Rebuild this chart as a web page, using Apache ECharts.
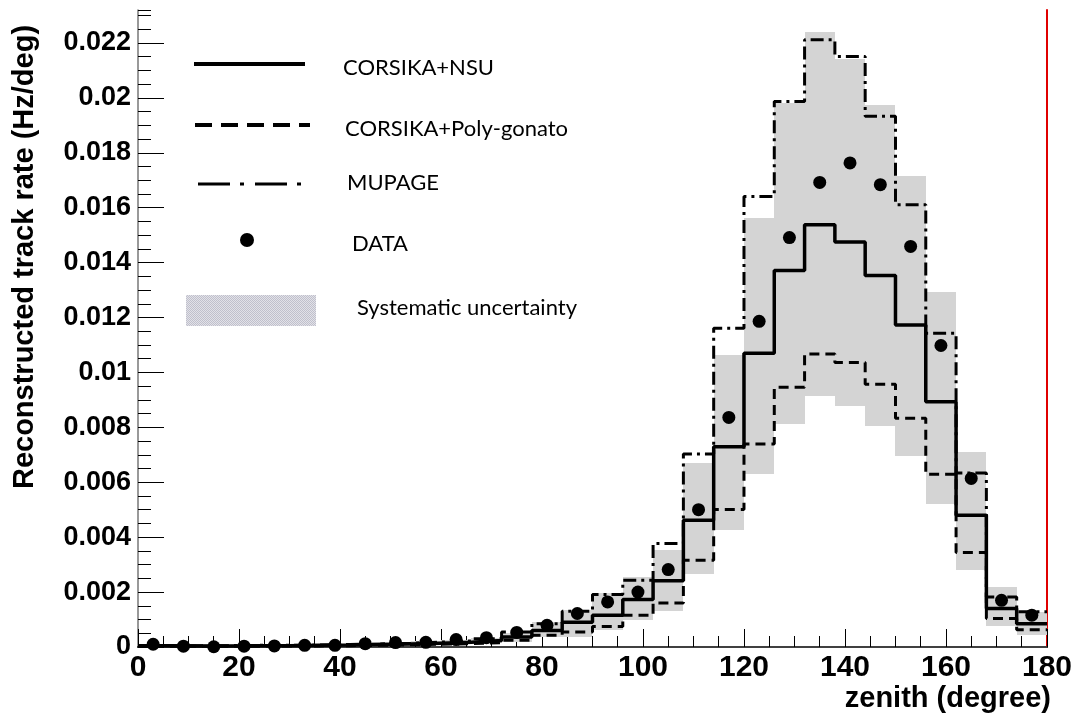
<!DOCTYPE html>
<html>
<head>
<meta charset="utf-8">
<script src="https://cdn.jsdelivr.net/npm/echarts@6/dist/echarts.min.js"></script>
<style>
  html, body { margin: 0; padding: 0; background: #fff; }
  #chart { width: 1075px; height: 716px; }
</style>
</head>
<body>
<div id="chart"></div>
<script>
// Zenith-angle histogram: 30 bins of 6 degrees (lower edges)
const binEdges = [0, 6, 12, 18, 24, 30, 36, 42, 48, 54, 60, 66, 72, 78, 84,
                  90, 96, 102, 108, 114, 120, 126, 132, 138, 144, 150, 156, 162, 168, 174];
const binWidth = 6;

// Reconstructed track rate per bin (Hz/deg)
const corsikaNSU = [0.00005, 0.00004, 0.00004, 0.00005, 0.00005, 0.00006, 0.00007, 0.00009, 0.00011, 0.00014,
                    0.00017, 0.00024, 0.00036, 0.0006, 0.0009, 0.00116, 0.00173, 0.00241, 0.00462, 0.00729,
                    0.0107, 0.01371, 0.01538, 0.01475, 0.01353, 0.01173, 0.00893, 0.0048, 0.0014, 0.00085];
const corsikaPolyGonato = [0.00003, 0.00003, 0.00003, 0.00003, 0.00004, 0.00004, 0.00005, 0.00006, 0.00008, 0.0001,
                           0.00012, 0.00016, 0.00025, 0.00043, 0.00055, 0.00075, 0.00116, 0.0016, 0.00316, 0.00501,
                           0.00739, 0.00946, 0.01067, 0.01036, 0.00957, 0.00833, 0.00629, 0.00344, 0.00104, 0.00063];
const mupage = [0.00005, 0.00005, 0.00005, 0.00006, 0.00006, 0.00007, 0.00009, 0.00011, 0.00014, 0.00018,
                0.00022, 0.0003, 0.00055, 0.00085, 0.0013, 0.00191, 0.00243, 0.00377, 0.00703, 0.01161,
                0.01641, 0.01987, 0.02212, 0.02151, 0.01933, 0.01611, 0.01143, 0.00634, 0.00182, 0.00128];
const dataRate = [0.0001, 0.00003, 0.00001, 0.00003, 0.00004, 0.00006, 0.00006, 0.00012, 0.00016, 0.00017,
                  0.00027, 0.00034, 0.00053, 0.00079, 0.00122, 0.00164, 0.002, 0.00282, 0.005, 0.00836,
                  0.01186, 0.01491, 0.01692, 0.01763, 0.01684, 0.01459, 0.01098, 0.00614, 0.0017, 0.00116];
// Systematic uncertainty band (lower / upper edge per bin)
const sysLow = [0.00002, 0.00002, 0.00002, 0.00002, 0.00003, 0.00003, 0.00004, 0.00005, 0.00006, 0.00007,
                0.0001, 0.00014, 0.0002, 0.00035, 0.00036, 0.00061, 0.00097, 0.0013, 0.00265, 0.00426,
                0.0063, 0.00812, 0.00915, 0.00878, 0.00805, 0.00696, 0.00521, 0.00282, 0.00075, 0.00043];
const sysHigh = [0.00007, 0.00006, 0.00006, 0.00007, 0.00008, 0.00009, 0.00011, 0.00013, 0.00017, 0.00021,
                 0.00026, 0.00034, 0.0005, 0.0009, 0.00134, 0.00195, 0.00255, 0.00353, 0.00671, 0.01064,
                 0.01562, 0.0198, 0.0224, 0.0214, 0.01975, 0.01714, 0.01292, 0.00709, 0.00217, 0.00128];

// Axis tick labels
const xTickLabels = ['0', '20', '40', '60', '80', '100', '120', '140', '160', '180'];
const yTickLabels = ['0', '0.002', '0.004', '0.006', '0.008', '0.01', '0.012', '0.014', '0.016', '0.018', '0.02', '0.022'];
const xStep = 20, yStep = 0.002;
const xMax = 180, yMax = 0.0232;

// Histogram outline: one point per lower edge plus the closing upper edge
function stepData(values) {
  const pts = binEdges.map((e, i) => [e, values[i]]);
  const last = binEdges.length - 1;
  pts.push([binEdges[last] + binWidth, values[last]]);
  return pts;
}

function labelFor(list, step) {
  return function (v) {
    const k = Math.round(v / step);
    return Math.abs(v - k * step) < step * 1e-6 && k < list.length ? list[k] : '';
  };
}

// Fine stipple used for the legend swatch of the uncertainty band
function stipple() {
  const c = document.createElement('canvas');
  c.width = 2; c.height = 2;
  const g = c.getContext('2d');
  g.fillStyle = '#e2e2e8'; g.fillRect(0, 0, 2, 2);
  g.fillStyle = '#c0c0cc'; g.fillRect(0, 0, 1, 1); g.fillRect(1, 1, 1, 1);
  return { image: c, repeat: 'repeat' };
}

const boldFont = 'Liberation Sans, Arial, sans-serif';
const legendFont = 'Lato, sans-serif';

const chart = echarts.init(document.getElementById('chart'), null, { renderer: 'canvas' });

chart.setOption({
  backgroundColor: '#fff',
  animation: false,
  grid: { left: 138, right: 27, top: 10, bottom: 69, containLabel: false },
  xAxis: [
    {
      type: 'value', min: 0, max: xMax, interval: xStep, position: 'bottom',
      axisLine: { show: true, lineStyle: { color: '#000', width: 2 } },
      axisTick: { show: true, inside: true, length: 18, lineStyle: { color: '#000', width: 1 } },
      minorTick: { show: true, splitNumber: 4, length: 11, lineStyle: { color: '#000', width: 1 } },
      axisLabel: { formatter: labelFor(xTickLabels, xStep), fontSize: 30, fontWeight: 'bold',
                   fontFamily: boldFont, color: '#000', margin: 6 },
      splitLine: { show: false }
    },
    {
      type: 'value', min: 0, max: xMax, position: 'top',
      axisLine: { show: true, lineStyle: { color: '#555', width: 1.5 } },
      axisTick: { show: false }, axisLabel: { show: false }, splitLine: { show: false }
    }
  ],
  yAxis: [
    {
      type: 'value', min: 0, max: yMax, interval: 0.0005, position: 'left',
      axisLine: { show: true, lineStyle: { color: '#777', width: 1.5 } },
      axisTick: { show: true, inside: true, length: 13, lineStyle: { color: '#000', width: 1 } },
      axisLabel: { show: false }, splitLine: { show: false }
    },
    {
      type: 'value', min: 0, max: yMax, interval: yStep, position: 'left', offset: 0,
      axisLine: { show: false },
      axisTick: { show: true, inside: true, length: 26, lineStyle: { color: '#000', width: 1 } },
      axisLabel: { formatter: labelFor(yTickLabels, yStep), fontSize: 27, fontWeight: 'bold',
                   fontFamily: boldFont, color: '#000', margin: 7, showMaxLabel: false },
      splitLine: { show: false }
    },
    {
      type: 'value', min: 0, max: yMax, position: 'right',
      axisLine: { show: true, lineStyle: { color: '#e00000', width: 2 } },
      axisTick: { show: false }, axisLabel: { show: false }, splitLine: { show: false }
    }
  ],
  series: [
    {
      name: 'Systematic uncertainty',
      type: 'custom',
      z: 1,
      silent: true,
      encode: { x: [0, 1], y: [2, 3] },
      data: binEdges.map((e, i) => [e, e + binWidth, sysLow[i], sysHigh[i]]),
      renderItem: function (params, api) {
        const a = api.coord([api.value(0), api.value(3)]);
        const b = api.coord([api.value(1), api.value(2)]);
        const x0 = Math.round(a[0]), x1 = Math.round(b[0]);
        const y0 = Math.round(a[1]), y1 = Math.round(b[1]);
        return {
          type: 'rect',
          shape: { x: x0, y: y0, width: x1 - x0, height: y1 - y0 },
          style: { fill: '#d4d4d4' }
        };
      }
    },
    {
      name: 'CORSIKA+Poly-gonato', type: 'line', step: 'end', z: 3,
      symbol: 'none', data: stepData(corsikaPolyGonato),
      lineStyle: { color: '#000', width: 3, type: [10, 6] }
    },
    {
      name: 'MUPAGE', type: 'line', step: 'end', z: 3,
      symbol: 'none', data: stepData(mupage),
      lineStyle: { color: '#000', width: 3, type: [13, 5, 3, 5] }
    },
    {
      name: 'CORSIKA+NSU', type: 'line', step: 'end', z: 4,
      symbol: 'none', data: stepData(corsikaNSU),
      lineStyle: { color: '#000', width: 3.5 }
    },
    {
      name: 'DATA', type: 'scatter', z: 5,
      symbol: 'circle', symbolSize: 13,
      itemStyle: { color: '#000', opacity: 1 },
      data: binEdges.map((e, i) => [e + binWidth / 2, dataRate[i]])
    }
  ],
  graphic: [
    // axis titles
    { type: 'text', x: 25, y: 257, rotation: Math.PI / 2, z: 10,
      style: { text: 'Reconstructed track rate (Hz/deg)', fontSize: 29, fontWeight: 'bold',
               fontFamily: boldFont, fill: '#000', align: 'center', verticalAlign: 'middle' } },
    { type: 'text', x: 1051, y: 699, z: 10,
      style: { text: 'zenith (degree)', fontSize: 29, fontWeight: 'bold',
               fontFamily: boldFont, fill: '#000', align: 'right', verticalAlign: 'middle' } },
    // legend
    { type: 'line', z: 10, shape: { x1: 194, y1: 64, x2: 305, y2: 64 },
      style: { stroke: '#000', lineWidth: 4 } },
    { type: 'text', x: 343, y: 68, z: 10,
      style: { text: 'CORSIKA+NSU', fontSize: 22, fontFamily: legendFont, fill: '#000', verticalAlign: 'middle' } },
    { type: 'line', z: 10, shape: { x1: 195, y1: 125, x2: 310, y2: 125 },
      style: { stroke: '#000', lineWidth: 4, lineDash: [17, 9] } },
    { type: 'text', x: 345, y: 129, z: 10,
      style: { text: 'CORSIKA+Poly-gonato', fontSize: 22, fontFamily: legendFont, fill: '#000', verticalAlign: 'middle' } },
    { type: 'line', z: 10, shape: { x1: 198, y1: 184, x2: 302, y2: 184 },
      style: { stroke: '#000', lineWidth: 3, lineDash: [32, 10, 4, 11] } },
    { type: 'text', x: 347, y: 183, z: 10,
      style: { text: 'MUPAGE', fontSize: 22, fontFamily: legendFont, fill: '#000', verticalAlign: 'middle' } },
    { type: 'circle', z: 10, shape: { cx: 247, cy: 240, r: 7 }, style: { fill: '#000' } },
    { type: 'text', x: 352, y: 244, z: 10,
      style: { text: 'DATA', fontSize: 22, fontFamily: legendFont, fill: '#000', verticalAlign: 'middle' } },
    { type: 'rect', z: 10, shape: { x: 186, y: 295, width: 130, height: 31 }, style: { fill: stipple() } },
    { type: 'text', x: 357, y: 308, z: 10,
      style: { text: 'Systematic uncertainty', fontSize: 22, fontFamily: legendFont, fill: '#000', verticalAlign: 'middle' } }
  ]
});
</script>
</body>
</html>
